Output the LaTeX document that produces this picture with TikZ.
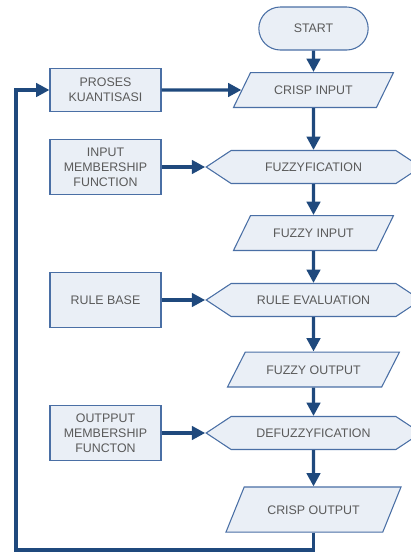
\documentclass[tikz,border=0pt]{standalone}
\usepackage{fontspec}
\setmainfont{Liberation Sans}
\usetikzlibrary{arrows.meta,positioning,shapes.geometric,shapes.misc,shapes.symbols}
\definecolor{boxfill}{HTML}{EAEFF6}
\definecolor{boxline}{HTML}{4A6FA5}
\definecolor{flowblue}{HTML}{1F497D}
\definecolor{txtgray}{HTML}{5A5A5A}
\begin{document}
\begin{tikzpicture}[x=0.75pt,y=-0.75pt,
  base/.style={draw=boxline,line width=0.8pt,fill=boxfill,text=txtgray,font=\fontsize{9.3}{11.2}\selectfont,align=center,inner sep=1pt},
  sidebox/.style={base,rectangle,minimum width=83.25pt,minimum height=41.25pt},
  iobox/.style={base,trapezium,trapezium left angle=64,trapezium right angle=116,trapezium stretches body,text height=7pt,text depth=0pt,inner ysep=9.6pt,minimum width=120pt},
  hexbox/.style={base,signal,signal to=west and east,signal pointer angle=67,minimum width=161pt,minimum height=24.75pt},
  termbox/.style={base,rounded rectangle,minimum width=84pt,minimum height=32.25pt},
  flow/.style={draw=flowblue,line width=2.6pt,-{Triangle[length=10pt,width=10pt]}}]
\useasboundingbox (0,0) rectangle (411,554);
% main column
\node[termbox] (start) at (313.5,28.5) {START};
\node[iobox] (cin) at (313.5,90) {CRISP INPUT};
\node[hexbox] (fuzz) at (313.5,167) {FUZZYFICATION};
\node[iobox] (fin) at (313.5,233) {FUZZY INPUT};
\node[hexbox] (reval) at (313.5,300) {RULE EVALUATION};
\node[iobox,minimum width=129pt,trapezium left angle=63,trapezium right angle=117] (fout) at (313.5,369.5) {FUZZY OUTPUT};
\node[hexbox] (defuzz) at (313.5,433) {DEFUZZYFICATION};
\node[iobox,minimum width=131.25pt,inner ysep=13.4pt,trapezium left angle=68,trapezium right angle=112] (cout) at (313.5,509.5) {CRISP OUTPUT};
% side boxes
\node[sidebox,minimum height=32.25pt] (proses) at (105.5,90) {PROSES\\KUANTISASI};
\node[sidebox] (imf) at (105.5,167) {INPUT\\MEMBERSHIP\\FUNCTION};
\node[sidebox] (rbase) at (105.5,300) {RULE BASE};
\node[sidebox] (omf) at (105.5,433) {OUTPPUT\\MEMBERSHIP\\FUNCTON};
% connectors
\draw[flow] (start.south)--(cin.north);
\draw[flow] (cin.south)--(fuzz.north);
\draw[flow] (fuzz.south)--(fin.north);
\draw[flow] (fin.south)--(reval.north);
\draw[flow] (reval.south)--(fout.north);
\draw[flow] (fout.south)--(defuzz.north);
\draw[flow] (defuzz.south)--(cout.north);
\draw[flow] (proses.east)--(cin.west);
\draw[flow] (imf.east)--(fuzz.west);
\draw[flow] (rbase.east)--(reval.west);
\draw[flow] (omf.east)--(defuzz.west);
\coordinate (lb) at (16,550);
\draw[flow] (cout.south) |- (lb) |- (proses.west);
\end{tikzpicture}
\end{document}
